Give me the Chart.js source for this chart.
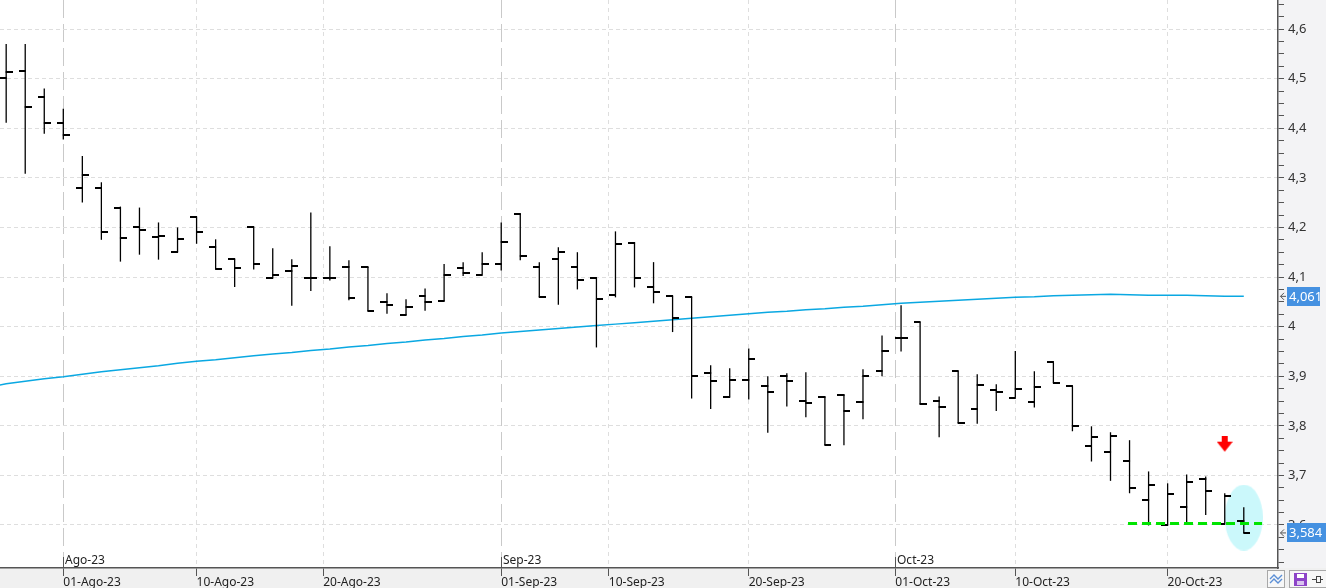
<!DOCTYPE html>
<html>
<head>
<meta charset="utf-8">
<title>Barras OHLC</title>
<script src="https://cdn.jsdelivr.net/npm/chart.js@4"></script>
<style>
  html, body { margin: 0; padding: 0; width: 100%; height: 100%; overflow: hidden; background: #fff; }
  .wrap { position: relative; width: 1326px; height: 588px; }
  .btn { position: absolute; top: 570px; height: 16px; border: 1px solid #a8a8a8; background: #f7f7f7; }
  .btn svg { display: block; }
</style>
</head>
<body>
<div class="wrap">
  <canvas id="chart" width="1326" height="588"></canvas>
  <div class="btn" style="left:1267px; width:16px;">
    <svg width="16" height="16"><polyline points="2,8 6,4 10,8 14,4" fill="none" stroke="#5b8fd6" stroke-width="1.4"/><polyline points="2,12 6,8 10,12 14,8" fill="none" stroke="#5b8fd6" stroke-width="1.4"/></svg>
  </div>
  <div class="btn" style="left:1289px; width:36px;">
    <svg width="36" height="16"><rect x="4" y="2" width="13" height="13" fill="#8d44c8"/><rect x="7" y="3" width="7" height="4" fill="#fff"/><rect x="7" y="10" width="7" height="4" fill="#d9c4ee"/><line x1="22" y1="8.5" x2="26" y2="8.5" stroke="#444"/><rect x="26.5" y="5.5" width="4" height="6" fill="none" stroke="#444"/><line x1="30.5" y1="8.5" x2="33" y2="8.5" stroke="#444"/></svg>
  </div>
</div>
<script>
// sesiones (27-jul-23 .. 26-oct-23)
const dates = [
  '27-Jul-23','28-Jul-23','31-Jul-23',
  '01-Ago-23','02-Ago-23','03-Ago-23','04-Ago-23','07-Ago-23','08-Ago-23','09-Ago-23','10-Ago-23','11-Ago-23',
  '14-Ago-23','15-Ago-23','16-Ago-23','17-Ago-23','18-Ago-23','21-Ago-23','22-Ago-23','23-Ago-23','24-Ago-23','25-Ago-23',
  '28-Ago-23','29-Ago-23','30-Ago-23','31-Ago-23',
  '01-Sep-23','04-Sep-23','05-Sep-23','06-Sep-23','07-Sep-23','08-Sep-23','11-Sep-23','12-Sep-23','13-Sep-23','14-Sep-23','15-Sep-23',
  '18-Sep-23','19-Sep-23','20-Sep-23','21-Sep-23','22-Sep-23','25-Sep-23','26-Sep-23','27-Sep-23','28-Sep-23','29-Sep-23',
  '02-Oct-23','03-Oct-23','04-Oct-23','05-Oct-23','06-Oct-23','09-Oct-23','10-Oct-23','11-Oct-23','12-Oct-23','13-Oct-23',
  '16-Oct-23','17-Oct-23','18-Oct-23','19-Oct-23','20-Oct-23','23-Oct-23','24-Oct-23','25-Oct-23','26-Oct-23'
];
const open = [
  4.501, 4.515, 4.462, 4.410, 4.279, 4.279, 4.240, 4.200, 4.180, 4.150,
  4.220, 4.160, 4.136, 4.200, 4.099, 4.112, 4.099, 4.099, 4.120, 4.120,
  4.049, 4.023, 4.061, 4.051, 4.118, 4.105, 4.126, 4.228, 4.120, 4.136,
  4.120, 4.099, 4.063, 4.168, 4.079, 4.061, 4.060, 3.906, 3.859, 3.892,
  3.880, 3.900, 3.849, 3.859, 3.863, 3.847, 3.910, 3.978, 4.009, 3.849,
  3.910, 3.833, 3.872, 3.857, 3.847, 3.928, 3.880, 3.759, 3.747, 3.730,
  3.650, 3.599, 3.636, 3.692, 3.603, 3.609
];
const high = [
  4.570, 4.570, 4.480, 4.439, 4.344, 4.291, 4.242, 4.240, 4.210, 4.200,
  4.220, 4.176, 4.136, 4.200, 4.158, 4.136, 4.230, 4.162, 4.134, 4.120,
  4.067, 4.055, 4.077, 4.126, 4.130, 4.150, 4.210, 4.228, 4.130, 4.160,
  4.150, 4.099, 4.192, 4.170, 4.130, 4.061, 4.060, 3.922, 3.916, 3.956,
  3.900, 3.906, 3.908, 3.859, 3.863, 3.914, 3.982, 4.043, 4.009, 3.859,
  3.910, 3.904, 3.884, 3.951, 3.910, 3.928, 3.880, 3.799, 3.787, 3.771,
  3.708, 3.684, 3.702, 3.698, 3.664, 3.636
];
const low = [
  4.411, 4.308, 4.389, 4.377, 4.250, 4.175, 4.131, 4.145, 4.135, 4.150,
  4.167, 4.116, 4.080, 4.115, 4.099, 4.042, 4.072, 4.093, 4.053, 4.031,
  4.026, 4.023, 4.032, 4.051, 4.102, 4.105, 4.113, 4.134, 4.059, 4.044,
  4.075, 3.958, 4.059, 4.079, 4.047, 3.989, 3.855, 3.834, 3.859, 3.853,
  3.786, 3.839, 3.817, 3.761, 3.761, 3.813, 3.900, 3.950, 3.843, 3.777,
  3.805, 3.804, 3.830, 3.857, 3.837, 3.886, 3.789, 3.728, 3.689, 3.664,
  3.599, 3.599, 3.601, 3.620, 3.603, 3.584
];
const close = [
  4.513, 4.442, 4.410, 4.386, 4.305, 4.190, 4.178, 4.194, 4.182, 4.176,
  4.190, 4.116, 4.118, 4.126, 4.105, 4.122, 4.099, 4.099, 4.057, 4.031,
  4.043, 4.039, 4.049, 4.105, 4.109, 4.126, 4.170, 4.142, 4.059, 4.150,
  4.093, 4.055, 4.166, 4.099, 4.069, 4.017, 3.900, 3.890, 3.892, 3.934,
  3.868, 3.890, 3.845, 3.761, 3.829, 3.900, 3.950, 3.978, 3.843, 3.837,
  3.805, 3.882, 3.868, 3.874, 3.878, 3.886, 3.799, 3.777, 3.779, 3.674,
  3.680, 3.662, 3.686, 3.668, 3.658, 3.584
];
// media movil; el primer valor es la sesion anterior (26-jul)
const ma = [
  3.877,
  3.885, 3.890, 3.895, 3.899, 3.904, 3.909, 3.913, 3.917, 3.921, 3.926,
  3.930, 3.933, 3.937, 3.941, 3.945, 3.948, 3.952, 3.955, 3.959, 3.962,
  3.966, 3.969, 3.973, 3.976, 3.980, 3.983, 3.987, 3.990, 3.993, 3.996,
  3.999, 4.002, 4.005, 4.008, 4.011, 4.014, 4.017, 4.020, 4.023, 4.026,
  4.029, 4.031, 4.034, 4.036, 4.039, 4.041, 4.044, 4.047, 4.049, 4.051,
  4.053, 4.055, 4.057, 4.059, 4.060, 4.062, 4.063, 4.064, 4.065, 4.064,
  4.063, 4.063, 4.063, 4.062, 4.061, 4.061
];
// soporte, senal y zona marcada
const supportLevel = 3.603;
const supportFrom = 58.92, supportTo = 65.96;
const arrowAt = {x: 64, y: 3.763};
const zoneAt = {x: 65, y: 3.615};

const xTickPos = [3, 10, 16.65, 26, 31.65, 39, 46.7, 53, 61];
const xTickLabels = ['01-Ago-23','10-Ago-23','20-Ago-23','01-Sep-23','10-Sep-23','20-Sep-23','01-Oct-23','10-Oct-23','20-Oct-23'];
const monthPos = [3, 26, 46.7];
const monthLabels = ['Ago-23', 'Sep-23', 'Oct-23'];
const yMajor = [3.6, 3.7, 3.8, 3.9, 4.0, 4.1, 4.2, 4.3, 4.4, 4.5, 4.6];

const comma = (v, d) => Number(v.toFixed(d)).toString().replace('.', ',');

function tickImage(side) {
  const c = document.createElement('canvas');
  c.width = 13; c.height = 2;
  const g = c.getContext('2d');
  g.fillStyle = '#000';
  if (side === 'left') g.fillRect(0, 0, 7, 2); else g.fillRect(6, 0, 7, 2);
  return c;
}
function arrowImage() {
  const c = document.createElement('canvas');
  c.width = 16; c.height = 17;
  const g = c.getContext('2d');
  g.fillStyle = '#ff0000';
  g.fillRect(5, 0, 6, 7);
  g.beginPath(); g.moveTo(0, 6); g.lineTo(16, 6); g.lineTo(8, 16); g.closePath(); g.fill();
  return c;
}
function ellipseImage() {
  const c = document.createElement('canvas');
  c.width = 38; c.height = 66;
  const g = c.getContext('2d');
  g.fillStyle = '#cbf8fb';
  g.beginPath(); g.ellipse(19, 33, 19, 33, 0, 0, Math.PI * 2); g.fill();
  return c;
}

const isMonth = v => monthPos.some(p => Math.abs(p - v) < 1e-6);
const isMajor = v => yMajor.some(p => Math.abs(p - v) < 1e-6);

function drawTag(ctx, py, text, left, w) {
  ctx.strokeStyle = '#555';
  ctx.lineWidth = 1;
  ctx.beginPath();
  ctx.moveTo(left - 3, py - 3.5); ctx.lineTo(left - 6.5, py); ctx.lineTo(left - 3, py + 3.5);
  ctx.moveTo(left - 6.5, py); ctx.lineTo(left - 1, py);
  ctx.stroke();
  ctx.fillStyle = '#4591e1';
  ctx.fillRect(left, Math.round(py - 9.5), w, 19);
  ctx.fillStyle = '#fff';
  ctx.font = '13px "Noto Sans", sans-serif';
  ctx.textAlign = 'left';
  ctx.textBaseline = 'middle';
  ctx.fillText(text, left + 2, py + 0.5);
}

const panels = {
  id: 'panels',
  beforeDraw(chart) {
    const {ctx, chartArea: a, width, height} = chart;
    ctx.save();
    ctx.fillStyle = '#fff';
    ctx.fillRect(0, 0, width, height);
    ctx.fillStyle = '#f0f0f0';
    ctx.fillRect(0, a.bottom, width, height - a.bottom);
    ctx.fillStyle = '#f3f3f5';
    ctx.fillRect(a.right, 0, width - a.right, a.bottom);
    ctx.restore();
  },
  afterDraw(chart) {
    const {ctx, chartArea: a, scales} = chart;
    ctx.save();
    ctx.font = '12px "Noto Sans", sans-serif';
    ctx.fillStyle = '#222';
    ctx.textBaseline = 'middle';
    ctx.textAlign = 'left';
    ctx.strokeStyle = '#555';
    ctx.lineWidth = 1;
    monthPos.forEach((p, k) => {
      const px = Math.round(scales.x.getPixelForValue(p)) + 0.5;
      ctx.beginPath(); ctx.moveTo(px, a.bottom - 11); ctx.lineTo(px, a.bottom); ctx.stroke();
      ctx.fillText(monthLabels[k], px + 1.5, a.bottom - 7);
    });
    drawTag(ctx, scales.y.getPixelForValue(ma[ma.length - 1]), comma(ma[ma.length - 1], 3), a.right + 9, 33);
    drawTag(ctx, scales.y.getPixelForValue(close[close.length - 1]), comma(close[close.length - 1], 3), a.right + 9, 39);
    ctx.restore();
  }
};

Chart.defaults.font.family = '"Noto Sans", sans-serif';

const ctx = document.getElementById('chart');
new Chart(ctx, {
  type: 'line',
  plugins: [panels],
  data: {
    datasets: [
      {
        type: 'scatter',
        data: [{x: zoneAt.x, y: zoneAt.y}],
        pointStyle: ellipseImage(),
        pointRadius: 10,
        order: 10
      },
      {
        type: 'line',
        data: ma.map((v, i) => ({x: i - 1, y: v})),
        borderColor: '#0aa8e2',
        borderWidth: 1.5,
        pointRadius: 0,
        tension: 0,
        order: 6
      },
      {
        type: 'bar',
        data: dates.map((d, i) => ({x: i, y: [low[i], high[i]]})),
        backgroundColor: '#000',
        borderWidth: 0,
        barThickness: 1.3,
        inflateAmount: 0,
        order: 4
      },
      {
        type: 'scatter',
        data: dates.map((d, i) => ({x: i, y: open[i]})),
        pointStyle: tickImage('left'),
        pointRadius: 5,
        order: 3
      },
      {
        type: 'scatter',
        data: dates.map((d, i) => ({x: i, y: close[i]})),
        pointStyle: tickImage('right'),
        pointRadius: 5,
        order: 3
      },
      {
        type: 'line',
        data: [{x: supportFrom, y: supportLevel}, {x: supportTo, y: supportLevel}],
        borderColor: '#00e400',
        borderWidth: 3,
        borderDash: [9, 5],
        pointRadius: 0,
        order: 1
      },
      {
        type: 'scatter',
        data: [arrowAt],
        pointStyle: arrowImage(),
        pointRadius: 8,
        order: 0
      }
    ]
  },
  options: {
    responsive: false,
    animation: false,
    events: [],
    layout: { padding: 0, autoPadding: false },
    plugins: { legend: { display: false }, tooltip: { enabled: false } },
    scales: {
      x: {
        type: 'linear',
        position: 'bottom',
        min: -0.3246,
        max: 66.797,
        bounds: 'data',
        offset: false,
        afterBuildTicks(scale) { scale.ticks = xTickPos.map(v => ({value: v})); },
        afterFit(scale) { scale.height = 20; scale.paddingLeft = 0; scale.paddingRight = 0; },
        ticks: {
          autoSkip: false,
          maxRotation: 0,
          align: 'start',
          padding: -1,
          color: '#222',
          font: { size: 12 },
          callback(v) { const k = xTickPos.findIndex(p => Math.abs(p - v) < 1e-6); return k < 0 ? '' : xTickLabels[k]; }
        },
        grid: {
          offset: false,
          color: c => (c.tick && isMonth(c.tick.value)) ? '#c9c9c9' : '#dedede',
          lineWidth: 1,
          tickLength: 8,
          tickColor: '#555',
          tickWidth: 1
        },
        border: {
          display: true,
          color: '#555',
          width: 1.5,
          dash: c => (c.tick && isMonth(c.tick.value)) ? [18, 6] : [4, 4]
        }
      },
      y: {
        type: 'linear',
        position: 'right',
        min: 3.5133,
        max: 4.6585,
        bounds: 'data',
        beginAtZero: false,
        afterBuildTicks(scale) {
          const t = [];
          for (let k = 141; k <= 186; k++) t.push({value: k * 0.025});
          scale.ticks = t;
        },
        afterFit(scale) { scale.width = 48; scale.paddingTop = 0; scale.paddingBottom = 0; },
        ticks: {
          autoSkip: false,
          padding: 4,
          color: '#333',
          font: { size: 13 },
          callback(v) { return isMajor(v) ? comma(v, 1) : ''; }
        },
        grid: {
          color: c => (c.tick && isMajor(c.tick.value)) ? '#dedede' : 'rgba(0,0,0,0)',
          lineWidth: 1,
          tickLength: 6,
          tickColor: '#555',
          tickWidth: 1
        },
        border: {
          display: true,
          color: '#555',
          width: 1.5,
          dash: [4, 3]
        }
      }
    }
  }
});
</script>
</body>
</html>
